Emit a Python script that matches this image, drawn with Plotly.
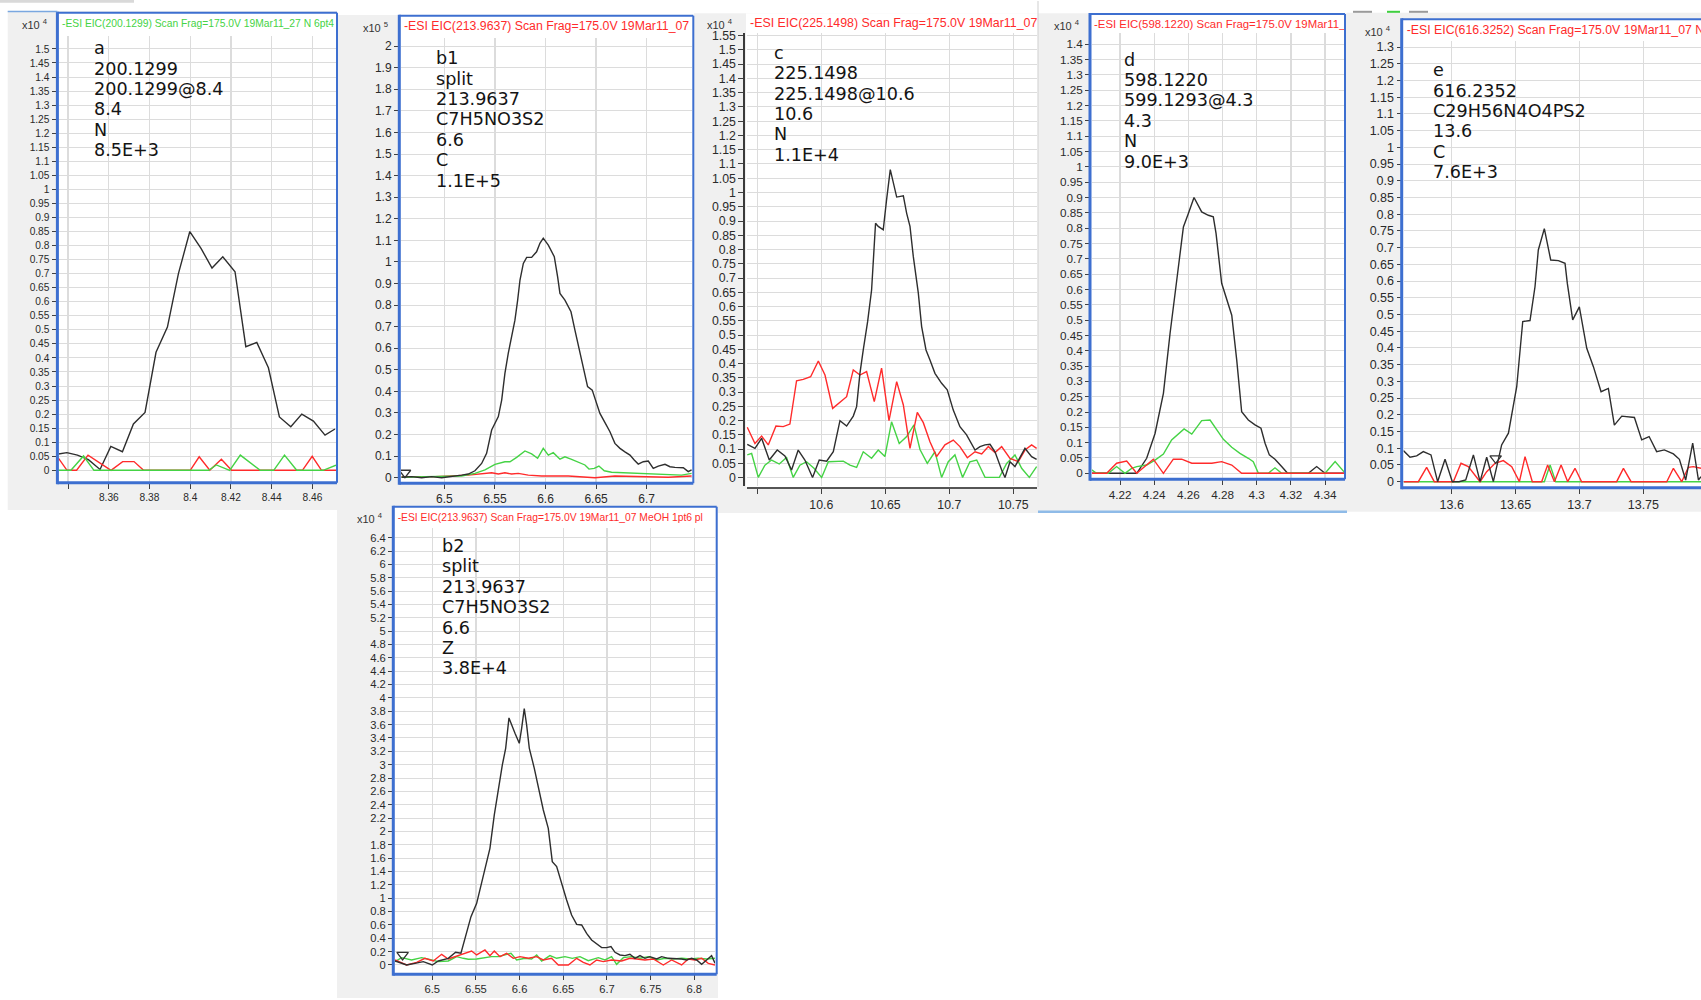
import plotly.graph_objects as go

W, H = 1701, 1000

# ---------------------------------------------------------------------------
# Extracted-ion chromatograms: retention time (min) and intensity (axis units)
# ---------------------------------------------------------------------------

# a : EIC 200.1299 (x10^4)
a_black_t = [8.3353, 8.3394, 8.3446, 8.3500, 8.3557, 8.3610, 8.3667, 8.3721, 8.3778, 8.3832,
             8.3888, 8.3942, 8.3998, 8.4053, 8.4107, 8.4160, 8.4220, 8.4273, 8.4327, 8.4384,
             8.4438, 8.4494, 8.4548, 8.4605, 8.4662, 8.4711]
a_black_i = [0.058, 0.063, 0.054, 0.038, 0.003, 0.085, 0.066, 0.165, 0.206, 0.420,
             0.510, 0.700, 0.850, 0.790, 0.720, 0.760, 0.707, 0.440, 0.455, 0.365,
             0.190, 0.155, 0.200, 0.175, 0.125, 0.147]
a_red_t = [8.3348, 8.3395, 8.3442, 8.3498, 8.3611, 8.3668, 8.3724, 8.3771, 8.4000, 8.4044,
           8.4096, 8.4153, 8.4203, 8.4551, 8.4599, 8.4645, 8.4716]
a_red_i = [0.048, 0.0, 0.0, 0.054, 0.0, 0.031, 0.031, 0.0, 0.0, 0.048,
           0.0, 0.039, 0.0, 0.0, 0.050, 0.0, 0.0]
a_green_t = [8.3351, 8.3414, 8.3476, 8.3527, 8.4091, 8.4128, 8.4194, 8.4246, 8.4344, 8.4410,
             8.4463, 8.4523, 8.4653, 8.4716]
a_green_i = [0.0, 0.0, 0.051, 0.0, 0.0, 0.019, 0.0, 0.054, 0.0, 0.0,
             0.054, 0.0, 0.0, 0.018]

# b1 : EIC 213.9637 (x10^5)
b1_black_t = [6.4578, 6.4677, 6.4776, 6.4875, 6.4974, 6.5072, 6.5171, 6.5237, 6.5303, 6.5369,
              6.5418, 6.5468, 6.5534, 6.5567, 6.5599, 6.5632, 6.5665, 6.5698, 6.5725, 6.5748,
              6.5781, 6.5814, 6.5863, 6.5912, 6.5945, 6.5978, 6.6028, 6.6087, 6.6120, 6.6143,
              6.6192, 6.6252, 6.6291, 6.6341, 6.6383, 6.6416, 6.6462, 6.6495, 6.6538, 6.6588,
              6.6637, 6.6686, 6.6736, 6.6785, 6.6835, 6.6877, 6.6917, 6.6966, 6.7016, 6.7065,
              6.7115, 6.7181, 6.7230, 6.7279, 6.7362, 6.7411, 6.7444]
b1_black_i = [0.002, 0.005, 0.000, 0.005, 0.000, 0.005, 0.012, 0.017, 0.032, 0.066,
              0.113, 0.221, 0.283, 0.360, 0.483, 0.576, 0.653, 0.730, 0.823, 0.916,
              0.993, 1.021, 1.021, 1.047, 1.086, 1.110, 1.078, 1.024, 0.931, 0.854,
              0.823, 0.769, 0.684, 0.576, 0.483, 0.422, 0.406, 0.360, 0.298, 0.255,
              0.213, 0.159, 0.136, 0.120, 0.105, 0.082, 0.063, 0.074, 0.077, 0.043,
              0.054, 0.062, 0.051, 0.048, 0.046, 0.028, 0.036]
b1_green_t = [6.4578, 6.4908, 6.5171, 6.5303, 6.5402, 6.5501, 6.5599, 6.5649, 6.5715, 6.5797,
              6.5863, 6.5922, 6.5978, 6.6028, 6.6077, 6.6143, 6.6192, 6.6258, 6.6341, 6.6390,
              6.6430, 6.6482, 6.6528, 6.6581, 6.6653, 6.6785, 6.6884, 6.6983, 6.7181, 6.7345,
              6.7444]
b1_green_i = [0.002, 0.005, 0.008, 0.020, 0.036, 0.062, 0.074, 0.074, 0.094, 0.124,
              0.110, 0.090, 0.136, 0.105, 0.116, 0.086, 0.097, 0.085, 0.069, 0.059,
              0.040, 0.043, 0.054, 0.032, 0.025, 0.023, 0.020, 0.017, 0.014, 0.012,
              0.020]
b1_red_t = [6.4578, 6.4908, 6.5237, 6.5369, 6.5468, 6.5534, 6.5599, 6.5665, 6.5731, 6.5830,
            6.5962, 6.6225, 6.6489, 6.6686, 6.6884, 6.7213, 6.7444]
b1_red_i = [0.005, 0.005, 0.012, 0.020, 0.023, 0.017, 0.023, 0.017, 0.020, 0.012,
            0.008, 0.008, 0.000, 0.008, 0.005, 0.002, 0.008]

# c : EIC 225.1498 (x10^4)
c_black_t = [10.5422, 10.5482, 10.5534, 10.5594, 10.5656, 10.5716, 10.5768, 10.5820, 10.5872, 10.5932,
             10.5984, 10.6042, 10.6094, 10.6146, 10.6198, 10.6250, 10.6276, 10.6302, 10.6328, 10.6362,
             10.6393, 10.6424, 10.6445, 10.6484, 10.6510, 10.6539, 10.6589, 10.6641, 10.6667, 10.6693,
             10.6719, 10.6758, 10.6784, 10.6818, 10.6849, 10.6888, 10.6940, 10.6984, 10.7031, 10.7083,
             10.7135, 10.7201, 10.7240, 10.7279, 10.7318, 10.7357, 10.7409, 10.7435, 10.7474, 10.7513,
             10.7591, 10.7643, 10.7682]
c_black_i = [0.117, 0.103, 0.138, 0.062, 0.097, 0.076, 0.027, 0.097, 0.062, 0.001,
             0.062, 0.058, 0.091, 0.200, 0.181, 0.216, 0.249, 0.366, 0.448, 0.547,
             0.658, 0.892, 0.881, 0.869, 0.974, 1.080, 0.984, 0.988, 0.927, 0.881,
             0.775, 0.647, 0.530, 0.448, 0.413, 0.366, 0.331, 0.308, 0.237, 0.179,
             0.150, 0.097, 0.109, 0.115, 0.117, 0.091, 0.027, 0.001, 0.056, 0.039,
             0.103, 0.074, 0.064]
c_red_t = [10.5422, 10.5482, 10.5534, 10.5586, 10.5646, 10.5703, 10.5755, 10.5807, 10.5859, 10.5917,
           10.5977, 10.6029, 10.6089, 10.6133, 10.6198, 10.6250, 10.6302, 10.6354, 10.6414, 10.6471,
           10.6529, 10.6589, 10.6641, 10.6693, 10.6750, 10.6797, 10.6849, 10.6901, 10.6966, 10.7031,
           10.7083, 10.7141, 10.7201, 10.7253, 10.7305, 10.7357, 10.7409, 10.7474, 10.7539, 10.7591,
           10.7643, 10.7682]
c_red_i = [0.177, 0.120, 0.146, 0.115, 0.181, 0.179, 0.188, 0.340, 0.345, 0.354,
           0.409, 0.360, 0.243, 0.261, 0.284, 0.378, 0.360, 0.372, 0.267, 0.384,
           0.200, 0.337, 0.255, 0.103, 0.229, 0.193, 0.126, 0.074, 0.115, 0.132,
           0.109, 0.070, 0.091, 0.083, 0.109, 0.088, 0.109, 0.068, 0.056, 0.097,
           0.115, 0.103]
c_green_t = [10.5422, 10.5456, 10.5508, 10.5560, 10.5612, 10.5672, 10.5729, 10.5781, 10.5833, 10.5885,
             10.5943, 10.6003, 10.6055, 10.6115, 10.6172, 10.6224, 10.6276, 10.6328, 10.6393, 10.6445,
             10.6497, 10.6549, 10.6609, 10.6667, 10.6724, 10.6771, 10.6828, 10.6888, 10.6940, 10.6992,
             10.7044, 10.7104, 10.7161, 10.7214, 10.7279, 10.7331, 10.7391, 10.7448, 10.7513, 10.7565,
             10.7625, 10.7682]
c_green_i = [0.080, 0.085, 0.001, 0.044, 0.062, 0.048, 0.071, 0.001, 0.044, 0.056,
             0.033, 0.001, 0.056, 0.058, 0.058, 0.044, 0.036, 0.091, 0.068, 0.097,
             0.074, 0.196, 0.120, 0.144, 0.185, 0.099, 0.050, 0.091, 0.001, 0.056,
             0.080, 0.001, 0.056, 0.062, 0.001, 0.001, 0.001, 0.050, 0.080, 0.033,
             0.001, 0.039]

# d : EIC 598.1220 (x10^4)
d_black_t = [4.2034, 4.2298, 4.2356, 4.2405, 4.2454, 4.2493, 4.2532, 4.2571, 4.2600, 4.2633,
             4.2678, 4.2717, 4.2746, 4.2762, 4.2795, 4.2824, 4.2854, 4.2883, 4.2912, 4.2951,
             4.2990, 4.3025, 4.3049, 4.3074, 4.3107, 4.3146, 4.3181, 4.3302, 4.3351, 4.3400,
             4.3511]
d_black_i = [0.0, 0.0, 0.049, 0.130, 0.261, 0.457, 0.630, 0.804, 0.848, 0.900,
             0.853, 0.842, 0.837, 0.783, 0.620, 0.565, 0.516, 0.370, 0.201, 0.174,
             0.158, 0.147, 0.098, 0.060, 0.046, 0.022, 0.0, 0.0, 0.022, 0.0,
             0.0]
d_green_t = [4.2034, 4.2063, 4.2132, 4.2180, 4.2229, 4.2268, 4.2298, 4.2356, 4.2405, 4.2454,
             4.2502, 4.2541, 4.2575, 4.2620, 4.2678, 4.2727, 4.2766, 4.2805, 4.2854, 4.2902,
             4.2951, 4.2980, 4.3010, 4.3068, 4.3107, 4.3146, 4.3400, 4.3459, 4.3511]
d_green_i = [0.011, 0.0, 0.0, 0.022, 0.0, 0.016, 0.022, 0.027, 0.043, 0.063,
             0.109, 0.130, 0.145, 0.128, 0.172, 0.174, 0.141, 0.111, 0.085, 0.065,
             0.049, 0.038, 0.0, 0.0, 0.018, 0.0, 0.0, 0.038, 0.005]
d_red_t = [4.2034, 4.2122, 4.2180, 4.2239, 4.2298, 4.2395, 4.2454, 4.2512, 4.2561, 4.2620,
           4.2737, 4.2795, 4.2854, 4.2912, 4.3511]
d_red_i = [0.0, 0.0, 0.033, 0.040, 0.0, 0.046, 0.0, 0.046, 0.046, 0.033,
           0.033, 0.038, 0.027, 0.0, 0.0]

# e : EIC 616.3252 (x10^4)
e_black_t = [13.5622, 13.5674, 13.5726, 13.5778, 13.5838, 13.5890, 13.5948, 13.6005, 13.6057, 13.6110,
             13.6170, 13.6222, 13.6274, 13.6326, 13.6391, 13.6444, 13.6509, 13.6556, 13.6613, 13.6652,
             13.6678, 13.6725, 13.6775, 13.6835, 13.6887, 13.6905, 13.6947, 13.6999, 13.7057, 13.7109,
             13.7169, 13.7226, 13.7273, 13.7331, 13.7430, 13.7487, 13.7545, 13.7604, 13.7664, 13.7735,
             13.7782, 13.7831, 13.7886, 13.7931, 13.7951]
e_black_i = [0.093, 0.073, 0.077, 0.090, 0.080, 0.0, 0.067, 0.0, 0.0, 0.005,
             0.080, 0.0, 0.073, 0.0, 0.110, 0.145, 0.284, 0.479, 0.482, 0.583,
             0.693, 0.757, 0.663, 0.661, 0.653, 0.593, 0.484, 0.523, 0.399, 0.344,
             0.269, 0.279, 0.169, 0.196, 0.192, 0.125, 0.135, 0.090, 0.095, 0.083,
             0.067, 0.005, 0.115, 0.005, 0.015]
e_red_t = [13.5622, 13.5739, 13.5804, 13.5864, 13.6013, 13.6073, 13.6130, 13.6222, 13.6274, 13.6339,
           13.6404, 13.6470, 13.6530, 13.6574, 13.6631, 13.6704, 13.6751, 13.6804, 13.6856, 13.6908,
           13.6965, 13.7017, 13.7291, 13.7344, 13.7404, 13.7683, 13.7735, 13.7800, 13.7852, 13.7891,
           13.7951]
e_red_i = [0.0, 0.0, 0.043, 0.0, 0.0, 0.055, 0.045, 0.0, 0.030, 0.055,
           0.063, 0.045, 0.0, 0.075, 0.0, 0.0, 0.050, 0.0, 0.050, 0.0,
           0.040, 0.0, 0.0, 0.040, 0.0, 0.0, 0.040, 0.0, 0.043, 0.045,
           0.040]
e_green_t = [13.5622, 13.6725, 13.6770, 13.6814, 13.7951]
e_green_i = [0.0, 0.0, 0.050, 0.0, 0.0]

# b2 : EIC 213.9637, second sample (x10^4)
b2_black_t = [6.4573, 6.4649, 6.4706, 6.4802, 6.4897, 6.5000, 6.5069, 6.5183, 6.5267, 6.5328,
              6.5382, 6.5443, 6.5508, 6.5565, 6.5611, 6.5660, 6.5710, 6.5756, 6.5802, 6.5840,
              6.5878, 6.5947, 6.5996, 6.6023, 6.6053, 6.6080, 6.6111, 6.6168, 6.6214, 6.6271,
              6.6328, 6.6374, 6.6424, 6.6473, 6.6538, 6.6595, 6.6653, 6.6710, 6.6767, 6.6824,
              6.6882, 6.6939, 6.6996, 6.7046, 6.7092, 6.7149, 6.7206, 6.7263, 6.7321, 6.7378,
              6.7435, 6.7492, 6.7569, 6.7626, 6.7702, 6.7779, 6.7855, 6.7912, 6.7969, 6.8027,
              6.8084, 6.8141, 6.8198, 6.8237]
b2_black_i = [0.060, 0.025, 0.000, 0.025, 0.050, 0.000, 0.060, 0.100, 0.190, 0.175,
              0.424, 0.724, 0.924, 1.223, 1.498, 1.747, 2.247, 2.646, 2.996, 3.245,
              3.700, 3.470, 3.320, 3.545, 3.840, 3.595, 3.245, 2.946, 2.646, 2.322,
              2.047, 1.548, 1.473, 1.248, 0.974, 0.749, 0.609, 0.599, 0.474, 0.374,
              0.310, 0.260, 0.260, 0.275, 0.190, 0.150, 0.140, 0.160, 0.100, 0.140,
              0.100, 0.125, 0.090, 0.125, 0.100, 0.100, 0.090, 0.075, 0.100, 0.075,
              0.010, 0.075, 0.140, 0.025]
b2_green_t = [6.4573, 6.4649, 6.4763, 6.4878, 6.4992, 6.5069, 6.5183, 6.5279, 6.5355, 6.5412,
              6.5508, 6.5603, 6.5679, 6.5756, 6.5832, 6.5901, 6.5966, 6.6061, 6.6137, 6.6195,
              6.6252, 6.6347, 6.6424, 6.6519, 6.6603, 6.6691, 6.6786, 6.6901, 6.6977, 6.7053,
              6.7111, 6.7187, 6.7282, 6.7378, 6.7473, 6.7569, 6.7664, 6.7760, 6.7855, 6.7950,
              6.8046, 6.8141, 6.8237]
b2_green_i = [0.050, 0.110, 0.075, 0.110, 0.075, 0.050, 0.060, 0.125, 0.100, 0.085,
              0.090, 0.115, 0.125, 0.125, 0.150, 0.175, 0.075, 0.100, 0.090, 0.150,
              0.060, 0.140, 0.100, 0.125, 0.100, 0.125, 0.065, 0.110, 0.075, 0.125,
              0.010, 0.110, 0.125, 0.100, 0.125, 0.075, 0.100, 0.090, 0.100, 0.090,
              0.100, 0.090, 0.100]
b2_red_t = [6.4573, 6.4706, 6.4821, 6.4916, 6.5011, 6.5107, 6.5183, 6.5260, 6.5355, 6.5450,
            6.5508, 6.5603, 6.5660, 6.5710, 6.5775, 6.5851, 6.5927, 6.6004, 6.6099, 6.6195,
            6.6271, 6.6366, 6.6443, 6.6557, 6.6653, 6.6729, 6.6805, 6.6882, 6.6958, 6.7053,
            6.7168, 6.7263, 6.7340, 6.7435, 6.7531, 6.7645, 6.7740, 6.7855, 6.7931, 6.8008,
            6.8084, 6.8160, 6.8237]
b2_red_i = [0.075, 0.000, 0.040, 0.100, 0.060, 0.160, 0.090, 0.125, 0.175, 0.210,
            0.150, 0.225, 0.140, 0.210, 0.125, 0.175, 0.100, 0.125, 0.100, 0.125,
            0.075, 0.100, 0.000, 0.000, 0.100, 0.040, 0.000, 0.075, 0.050, 0.075,
            0.060, 0.100, 0.090, 0.075, 0.090, 0.000, 0.075, 0.000, 0.090, 0.075,
            0.100, 0.025, 0.000]

# integration start markers (time, intensity)
b1_marker = (6.4611, 0.023)
e_marker = (13.6344, 0.070)
b2_marker = (6.4660, 0.150)

# x tick positions and labels
a_xticks = [8.34, 8.36, 8.38, 8.40, 8.42, 8.44, 8.46]
a_xlabels = ["", "8.36", "8.38", "8.4", "8.42", "8.44", "8.46"]
b1_xticks = [6.50, 6.55, 6.60, 6.65, 6.70]
b1_xlabels = ["6.5", "6.55", "6.6", "6.65", "6.7"]
c_xticks = [10.55, 10.60, 10.65, 10.70, 10.75]
c_xlabels = ["", "10.6", "10.65", "10.7", "10.75"]
d_xticks = [4.22, 4.24, 4.26, 4.28, 4.30, 4.32, 4.34]
d_xlabels = ["4.22", "4.24", "4.26", "4.28", "4.3", "4.32", "4.34"]
e_xticks = [13.60, 13.65, 13.70, 13.75]
e_xlabels = ["13.6", "13.65", "13.7", "13.75"]
b2_xticks = [6.50, 6.55, 6.60, 6.65, 6.70, 6.75, 6.80]
b2_xlabels = ["6.5", "6.55", "6.6", "6.65", "6.7", "6.75", "6.8"]

# panel headers and annotation blocks
a_title = "-ESI EIC(200.1299) Scan Frag=175.0V 19Mar11_27 N 6pt4"
b1_title = "-ESI EIC(213.9637) Scan Frag=175.0V 19Mar11_07"
c_title = "-ESI EIC(225.1498) Scan Frag=175.0V 19Mar11_07 N"
d_title = "-ESI EIC(598.1220) Scan Frag=175.0V 19Mar11_07 N"
e_title = "-ESI EIC(616.3252) Scan Frag=175.0V 19Mar11_07 N"
b2_title = "-ESI EIC(213.9637) Scan Frag=175.0V 19Mar11_07 MeOH 1pt6 pl"

a_lines = ["a", "200.1299", "200.1299@8.4", "8.4", "N", "8.5E+3"]
b1_lines = ["b1", "split", "213.9637", "C7H5NO3S2", "6.6", "C", "1.1E+5"]
c_lines = ["c", "225.1498", "225.1498@10.6", "10.6", "N", "1.1E+4"]
d_lines = ["d", "598.1220", "599.1293@4.3", "4.3", "N", "9.0E+3"]
e_lines = ["e", "616.2352", "C29H56N4O4PS2", "13.6", "C", "7.6E+3"]
b2_lines = ["b2", "split", "213.9637", "C7H5NO3S2", "6.6", "Z", "3.8E+4"]

# ---------------------------------------------------------------------------
# styling
# ---------------------------------------------------------------------------
BLACK = "#2e2e2e"
RED = "#ff2b2b"
GREEN = "#45d345"
FRAME = "#3d6fd0"
PANEL_BG = "#f0f0f0"
GRID = "#dcdcdc"
TICK = "#404040"
LABEL = "#2a2a2a"
SANS = "Liberation Sans"
BLOCK_FONT = "DejaVu Sans"
BLOCK_SIZE = 17.6
LINE_GAP = 20.4

# all geometry in screen pixels (left, top, right, bottom)
PANELS = [
    dict(series=[(a_black_t, a_black_i, BLACK), (a_red_t, a_red_i, RED), (a_green_t, a_green_i, GREEN)],
         marker=None, gray=(7.7, 11, 337, 510), frame=(57.4, 12.7, 337, 482.7),
         plot=(58.5, 36, 336, 481.5), xr=(8.3353, 8.4716), yr=(-0.0399, 1.5461), dtick=0.05,
         xt=a_xticks, xl=a_xlabels, tick=10.2,
         title=a_title, tcolor=GREEN, tsize=10.3, tpos=(62, 24), strip=(59, 14.5, 336, 35.5),
         exp="4", epos=(50, 24), lines=a_lines, text=(93.3, 48.2)),
    dict(series=[(b1_red_t, b1_red_i, RED), (b1_green_t, b1_green_i, GREEN), (b1_black_t, b1_black_i, BLACK)],
         marker=b1_marker, gray=(337, 15, 694, 502), frame=(399.3, 15.7, 693.3, 483.3),
         plot=(401, 38, 692, 482), xr=(6.4572, 6.7448), yr=(-0.0199, 2.0375), dtick=0.1,
         xt=b1_xticks, xl=b1_xlabels, tick=12,
         title=b1_title, tcolor=RED, tsize=12.3, tpos=(404, 27.3), strip=(401, 17.5, 692, 37.5),
         exp="5", epos=(390, 27.3), lines=b1_lines, text=(435, 58.3)),
    dict(series=[(c_green_t, c_green_i, GREEN), (c_red_t, c_red_i, RED), (c_black_t, c_black_i, BLACK)],
         marker=None, gray=(694, 13.3, 1038, 513), frame=None, white=(746, 13.3, 1038, 487),
         plot=(746.5, 33, 1037, 486), xr=(10.5416, 10.7685), yr=(-0.0291, 1.5593), dtick=0.05,
         xt=c_xticks, xl=c_xlabels, tick=12.3, yline=743.3, xline=487.3,
         title=c_title, tcolor=RED, tsize=12.4, tpos=(750, 24), strip=(746.5, 14, 1037, 32.5),
         exp="4", epos=(735, 24), lines=c_lines, text=(773.3, 52.7)),
    dict(series=[(d_black_t, d_black_i, BLACK), (d_green_t, d_green_i, GREEN), (d_red_t, d_red_i, RED)],
         marker=None, gray=(1038, 13.3, 1347, 511.7), frame=(1090, 14, 1345, 479.3),
         plot=(1092, 33, 1344, 478), xr=(4.2036, 4.3511), yr=(-0.0153, 1.4367), dtick=0.05,
         xt=d_xticks, xl=d_xlabels, tick=11.7,
         title=d_title, tcolor=RED, tsize=11.4, tpos=(1094, 25), strip=(1092, 15.5, 1344, 32.5),
         exp="4", epos=(1081.7, 25), lines=d_lines, text=(1123.3, 59.6)),
    dict(series=[(e_green_t, e_green_i, GREEN), (e_red_t, e_red_i, RED), (e_black_t, e_black_i, BLACK)],
         marker=e_marker, gray=(1347, 12.7, 1701, 511.7), frame=(1401.7, 19.3, 1712, 487.7),
         plot=(1403.5, 41, 1701, 486.5), xr=(13.5623, 13.7951), yr=(-0.0144, 1.318), dtick=0.05,
         xt=e_xticks, xl=e_xlabels, tick=12.5,
         title=e_title, tcolor=RED, tsize=12.3, tpos=(1406.7, 30.7), strip=(1403.5, 21, 1701, 40.5),
         exp="4", epos=(1393, 30.7), lines=e_lines, text=(1432.3, 70.3)),
    dict(series=[(b2_green_t, b2_green_i, GREEN), (b2_red_t, b2_red_i, RED), (b2_black_t, b2_black_i, BLACK)],
         marker=b2_marker, gray=(337, 502, 718, 998), frame=(393.3, 506.7, 716.7, 974.3),
         plot=(395, 528, 715, 973), xr=(6.4573, 6.8237), yr=(-0.12, 6.545), dtick=0.2,
         xt=b2_xticks, xl=b2_xlabels, tick=11.2,
         title=b2_title, tcolor=RED, tsize=10.3, tpos=(397.7, 518.3), strip=(395, 508.5, 715, 527.5),
         exp="4", epos=(385, 518.3), lines=b2_lines, text=(441, 545.9)),
]


def px(x):
    return x / W


def py(y):
    return 1 - y / H


def rect(l, t, r, b, fill, layer="below"):
    return dict(type="rect", xref="paper", yref="paper", x0=px(l), x1=px(r), y0=py(b), y1=py(t),
                fillcolor=fill, line=dict(width=0), layer=layer)


def seg(x0, y0, x1, y1, color, width, layer="above"):
    return dict(type="line", xref="paper", yref="paper", x0=px(x0), x1=px(x1), y0=py(y0), y1=py(y1),
                line=dict(color=color, width=width), layer=layer)


layout = dict(width=W, height=H, margin=dict(l=0, r=0, t=0, b=0), template="none",
              paper_bgcolor="white", plot_bgcolor="white", showlegend=False,
              shapes=[], annotations=[])
traces = []

# panel backgrounds first, then white plotting windows on top of them
for p in PANELS:
    layout["shapes"].append(rect(*p["gray"], PANEL_BG))
for p in PANELS:
    win = p.get("white") or p["frame"]
    layout["shapes"].append(rect(*win, "white"))

for i, p in enumerate(PANELS):
    n = i + 1
    l, t, r, b = p["plot"]
    xa = dict(domain=[px(l), px(r)], range=list(p["xr"]), anchor=f"y{n}",
              tickmode="array", tickvals=p["xt"], ticktext=p["xl"],
              ticks="outside", ticklen=6, tickwidth=1, tickcolor=TICK,
              tickfont=dict(family=SANS, size=p["tick"], color=LABEL),
              showgrid=True, gridcolor=GRID, gridwidth=1.3, zeroline=False, showline=False,
              fixedrange=True)
    ya = dict(domain=[py(b), py(t)], range=list(p["yr"]), anchor=f"x{n}",
              tickmode="linear", tick0=0, dtick=p["dtick"],
              ticks="outside", ticklen=6, tickwidth=1, tickcolor=TICK,
              tickfont=dict(family=SANS, size=p["tick"], color=LABEL),
              showgrid=True, gridcolor=GRID, gridwidth=1, zeroline=False, showline=False,
              fixedrange=True)
    if p.get("yline") is not None:
        ya.update(anchor="free", position=px(p["yline"]), showline=True, linecolor="#3a3a3a",
                  linewidth=1.5, ticklen=5)
        xa.update(anchor="free", position=py(p["xline"]), showline=True, linecolor="#555555",
                  linewidth=1.5, ticklen=5)
    layout[f"xaxis{n}"] = xa
    layout[f"yaxis{n}"] = ya

    for tt, ii, col in p["series"]:
        traces.append(go.Scatter(x=tt, y=ii, xaxis=f"x{n}", yaxis=f"y{n}", mode="lines",
                                 line=dict(color=col, width=1.4), hoverinfo="skip"))
    if p["marker"] is not None:
        traces.append(go.Scatter(x=[p["marker"][0]], y=[p["marker"][1]], xaxis=f"x{n}", yaxis=f"y{n}",
                                 mode="markers", hoverinfo="skip",
                                 marker=dict(symbol="triangle-down-open", size=10,
                                             color="#333333", line=dict(width=1.3))))

    # header strip: its own hidden axes so the text is clipped at the window edge
    m = n + 6
    sl, st, sr, sb = p["strip"]
    layout[f"xaxis{m}"] = dict(domain=[px(sl), px(sr)], range=[sl, sr], visible=False,
                               anchor=f"y{m}", fixedrange=True)
    layout[f"yaxis{m}"] = dict(domain=[py(sb), py(st)], range=[sb, st], visible=False,
                               anchor=f"x{m}", fixedrange=True)
    traces.append(go.Scatter(x=[p["tpos"][0]], y=[p["tpos"][1]], xaxis=f"x{m}", yaxis=f"y{m}",
                             mode="text", text=[p["title"]], textposition="middle right",
                             textfont=dict(family=SANS, size=p["tsize"], color=p["tcolor"]),
                             cliponaxis=True, hoverinfo="skip"))

    # intensity multiplier
    layout["annotations"].append(dict(
        xref="paper", yref="paper", x=px(p["epos"][0]), y=py(p["epos"][1]),
        xanchor="right", yanchor="middle", showarrow=False,
        text=f"x10 <sup>{p['exp']}</sup>", font=dict(family=SANS, size=11, color="#333333")))

    # compound annotation block
    tx, ty = p["text"]
    for k, s in enumerate(p["lines"]):
        layout["annotations"].append(dict(
            xref="paper", yref="paper", x=px(tx - 1), y=py(ty + k * LINE_GAP),
            xanchor="left", yanchor="middle", showarrow=False, text=s,
            font=dict(family=BLOCK_FONT, size=BLOCK_SIZE, color="#141414")))

    # window frame
    if p["frame"] is not None:
        fl, ft, fr, fb = p["frame"]
        layout["shapes"] += [
            seg(fl, ft, fr, ft, FRAME, 2),
            seg(fl, fb, fr, fb, FRAME, 3),
            seg(fl, ft - 1, fl, fb + 1.5, FRAME, 3),
            seg(fr, ft, fr, fb, FRAME, 2),
        ]

# small window-chrome details
layout["shapes"] += [
    rect(0, 0, 134, 2.7, "#d9d9d9"),
    seg(7.7, 11.5, 57.4, 11.5, "#7aa7e0", 1.5),
    seg(1038, 1, 1038, 487, "#cfcfcf", 1),
    seg(1038, 511.7, 1347, 511.7, "#8fbbe8", 2.5),
    seg(1353, 11.8, 1372, 11.8, "#9a9a9a", 2),
    seg(1387, 11.8, 1400, 11.8, "#3fcf3f", 2),
    seg(1409, 11.8, 1428, 11.8, "#9a9a9a", 2),
]

fig = go.Figure(data=traces, layout=layout)
fig.write_html("out.html", config={"displayModeBar": False, "staticPlot": True})
